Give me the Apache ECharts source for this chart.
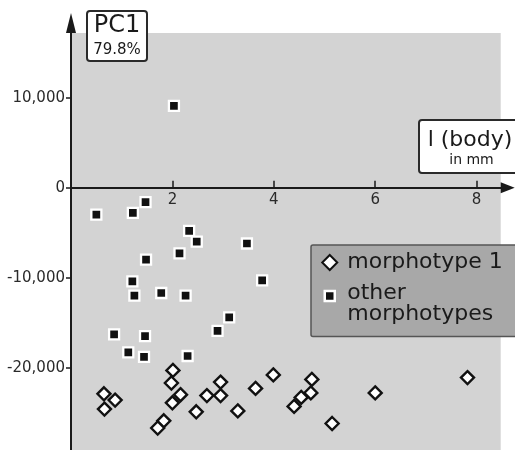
<!DOCTYPE html>
<html>
<head>
<meta charset="utf-8">
<script src="https://cdn.jsdelivr.net/npm/echarts@6/dist/echarts.min.js"></script>
<style>
html,body{margin:0;padding:0;background:#fff;}
#chart{width:515px;height:450px;}
</style>
</head>
<body>
<div id="chart"></div>
<script>
// l (body) in mm, PC1 score
var seriesNames = ['morphotype 1', 'other morphotypes'];
var morphotype1 = [
  [0.65, -22900], [0.87, -23600], [0.66, -24600], [2.01, -20300], [1.98, -21700],
  [2.16, -23000], [2.00, -23900], [1.83, -25900], [1.71, -26700], [2.47, -24900],
  [2.68, -23100], [2.95, -21600], [2.95, -23100], [3.29, -24800], [3.64, -22300],
  [3.99, -20800], [4.75, -21300], [4.73, -22800], [4.54, -23300], [4.40, -24300],
  [5.15, -26200], [6.00, -22800], [7.82, -21100]
];
var otherMorphotypes = [
  [2.03, 9100], [0.50, -3000], [1.22, -2800], [1.47, -1600], [2.33, -4800],
  [2.48, -6000], [2.14, -7300], [1.48, -8000], [3.47, -6200], [1.21, -10400],
  [1.25, -12000], [1.78, -11700], [2.26, -12000], [3.77, -10300], [3.12, -14400],
  [2.89, -15900], [0.85, -16300], [1.46, -16500], [1.13, -18300], [1.44, -18800],
  [2.30, -18700]
];
var xTicks = [2, 4, 6, 8];
var yTicks = [-20000, -10000, 0, 10000];

var FONT = '"DejaVu Sans", sans-serif';
var Y_MIN = -30000, Y_MAX = 17190;
var GRID_TOP = 33, GRID_BOTTOM = -7.7;
var chart = echarts.init(document.getElementById('chart'));
var gridH = 450 - GRID_TOP - GRID_BOTTOM;
var zeroOffset = gridH * (0 - Y_MIN) / (Y_MAX - Y_MIN);
chart.setOption({
  animation: false,
  backgroundColor: '#ffffff',
  grid: {
    show: true, backgroundColor: '#d3d3d3', borderWidth: 0,
    left: 71, right: 14.3, top: GRID_TOP, bottom: GRID_BOTTOM,
    outerBoundsMode: 'none', containLabel: false
  },
  xAxis: {
    type: 'value', min: 0, max: 8.475, interval: 2, position: 'bottom',
    offset: -zeroOffset,
    axisLine: { onZero: false, lineStyle: { color: '#1a1a1a', width: 2 },
      symbol: ['none', 'triangle'], symbolSize: [11, 14], symbolOffset: [0, 7] },
    axisTick: { show: true, inside: true, length: 7, lineStyle: { color: '#1a1a1a', width: 1.5 } },
    axisLabel: { showMinLabel: false, showMaxLabel: false, margin: 5,
      fontFamily: FONT, fontSize: 15, color: '#2a2a2a',
      formatter: function (v) { return xTicks.indexOf(v) >= 0 ? String(v) : ''; } },
    splitLine: { show: false }
  },
  yAxis: {
    type: 'value', min: Y_MIN, max: Y_MAX, interval: 10000,
    axisLine: { show: true, onZero: false, lineStyle: { color: '#1a1a1a', width: 2 },
      symbol: ['none', 'triangle'], symbolSize: [10, 20], symbolOffset: [0, 10] },
    axisTick: { show: true, inside: false, length: 5, lineStyle: { color: '#1a1a1a', width: 1.5 } },
    axisLabel: { showMinLabel: false, showMaxLabel: false, margin: 6,
      fontFamily: FONT, fontSize: 15, color: '#2a2a2a',
      formatter: function (v) { return yTicks.indexOf(v) >= 0 ? v.toLocaleString('en-US') : ''; } },
    splitLine: { show: false }
  },
  legend: {
    orient: 'vertical', left: 311, top: 245,
    backgroundColor: '#a8a8a8', borderColor: '#555555', borderWidth: 1.5, borderRadius: 2,
    padding: [6.5, 30, 11.5, 10],
    itemWidth: 15, itemHeight: 15, itemGap: -6,
    textStyle: { fontFamily: FONT, fontSize: 22, lineHeight: 21, color: '#1a1a1a', padding: [0, 0, 0, 5],
      rich: {
        s: { fontSize: 1, lineHeight: 15 },
        t: { fontFamily: FONT, fontSize: 22, lineHeight: 21, color: '#1a1a1a' }
      } },
    formatter: function (name) {
      return name === seriesNames[1] ? '{s| }\n{t|other}\n{t|morphotypes}' : name;
    },
    data: [
      { name: seriesNames[0] },
      { name: seriesNames[1], icon: 'path://M0,0 M2.5,2.5 L12.5,2.5 L12.5,12.5 L2.5,12.5 Z M15,15',
        itemStyle: { borderColor: '#ffffff', borderWidth: 2.5 } }
    ]
  },
  graphic: [
    { type: 'group', left: 86, top: 10, children: [
      { type: 'rect', shape: { x: 0, y: 0, width: 60, height: 50, r: 3 },
        style: { fill: '#ffffff', stroke: '#2a2a2a', lineWidth: 2 } },
      { type: 'text', x: 30, y: 15, style: { text: 'PC1', fontFamily: FONT, fontSize: 24,
        fill: '#1a1a1a', align: 'center', verticalAlign: 'middle' } },
      { type: 'text', x: 30, y: 39, style: { text: '79.8%', fontFamily: FONT, fontSize: 15,
        fill: '#1a1a1a', align: 'center', verticalAlign: 'middle' } }
    ]},
    { type: 'group', left: 418, top: 119, children: [
      { type: 'rect', shape: { x: 0, y: 0, width: 100, height: 53, r: 3 },
        style: { fill: '#ffffff', stroke: '#2a2a2a', lineWidth: 2 } },
      { type: 'text', x: 51, y: 20, style: { text: 'l (body)', fontFamily: FONT, fontSize: 22,
        fill: '#1a1a1a', align: 'center', verticalAlign: 'middle' } },
      { type: 'text', x: 52.5, y: 40.5, style: { text: 'in mm', fontFamily: FONT, fontSize: 14,
        fill: '#1a1a1a', align: 'center', verticalAlign: 'middle' } }
    ]}
  ],
  series: [
    { name: seriesNames[0], type: 'scatter', symbol: 'diamond', symbolSize: 13,
      itemStyle: { color: '#ffffff', borderColor: '#111111', borderWidth: 2.4, opacity: 1 },
      data: morphotype1, z: 3 },
    { name: seriesNames[1], type: 'scatter', symbol: 'rect', symbolSize: 10,
      itemStyle: { color: '#111111', borderColor: '#ffffff', borderWidth: 2.3, opacity: 1 },
      data: otherMorphotypes, z: 4 }
  ]
});
</script>
</body>
</html>
